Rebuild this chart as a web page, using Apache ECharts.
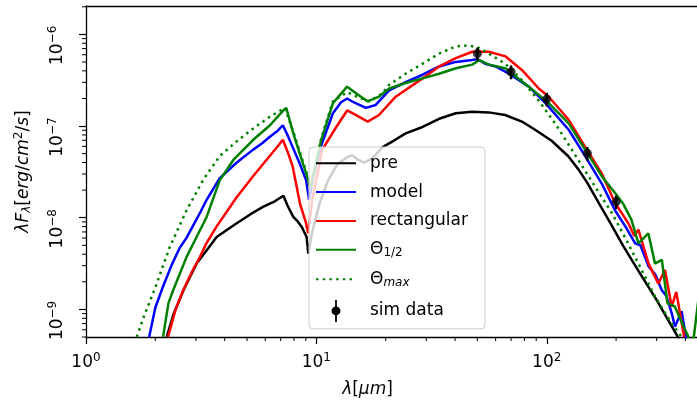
<!DOCTYPE html>
<html><head><meta charset="utf-8">
<script src="https://cdn.jsdelivr.net/npm/echarts@6/dist/echarts.min.js"></script>
<style>html,body{margin:0;padding:0;background:#fff}#c{width:697px;height:400px}</style>
</head><body><div id="c"></div>
<script>
// ---- axis ticks ----
const xTickValues = [1, 10, 100];
const yTickValues = [1e-9, 1e-8, 1e-7, 1e-6];
const xMin = 1, xMax = 458;
const yMin = 5.0e-10, yMax = 2.04e-6;

// ---- series: pre ----
const preLam = [2.24, 2.4, 2.65, 3.02, 3.4, 3.69, 4.1, 4.51, 5.2, 5.89, 6.6, 7.19, 7.5, 7.94, 8.3, 8.64, 9.07, 9.22, 9.6, 10.3, 11.2, 12.3, 13.6, 14.3, 15.2, 16.1, 17.5, 19.4, 22, 24.4, 28.9, 34.1, 40.3, 47.5, 56, 66, 78, 89, 105, 124, 137, 150, 170, 190, 215, 250, 300, 367, 385];
const preF = [5.01e-10, 8.91e-10, 1.62e-9, 3.16e-9, 4.68e-9, 6.17e-9, 7.41e-9, 8.71e-9, 1.10e-8, 1.32e-8, 1.51e-8, 1.74e-8, 1.35e-8, 1.02e-8, 9.12e-9, 7.94e-9, 6.17e-9, 4.07e-9, 7.08e-9, 1.41e-8, 2.51e-8, 3.80e-8, 4.57e-8, 4.79e-8, 4.27e-8, 3.98e-8, 4.47e-8, 5.89e-8, 7.08e-8, 8.32e-8, 9.77e-8, 1.20e-7, 1.38e-7, 1.43e-7, 1.41e-7, 1.32e-7, 1.12e-7, 9.12e-8, 6.92e-8, 4.68e-8, 3.39e-8, 2.40e-8, 1.38e-8, 8.51e-9, 4.90e-9, 2.63e-9, 1.26e-9, 5.25e-10, 4.17e-10];

// ---- series: model ----
const modelLam = [1.88, 2.0, 2.16, 2.35, 2.55, 2.73, 3.12, 3.33, 3.80, 4.5, 5.30, 5.8, 6.26, 6.8, 7.15, 7.5, 7.89, 8.5, 9.02, 9.3, 9.7, 10.5, 11.8, 12.8, 13.6, 14.5, 16.4, 18.1, 20.7, 24.4, 28.9, 34.1, 40.3, 47.5, 50, 54, 60, 68.5, 83.6, 98.7, 124.5, 147, 173.5, 198, 220, 242, 255, 276.6, 296, 315.8, 330, 348.6, 360, 385, 405];
const modelF = [5.01e-10, 1.05e-9, 1.78e-9, 3.02e-9, 4.68e-9, 6.03e-9, 1.12e-8, 1.55e-8, 2.69e-8, 3.98e-8, 5.50e-8, 6.46e-8, 7.59e-8, 8.91e-8, 1.02e-7, 7.94e-8, 5.89e-8, 3.80e-8, 2.57e-8, 1.58e-8, 2.82e-8, 6.17e-8, 1.38e-7, 1.82e-7, 2.00e-7, 1.82e-7, 1.58e-7, 1.70e-7, 2.45e-7, 3.02e-7, 3.63e-7, 4.47e-7, 5.01e-7, 5.25e-7, 5.37e-7, 4.79e-7, 4.47e-7, 3.72e-7, 2.69e-7, 1.78e-7, 9.12e-8, 4.68e-8, 2.34e-8, 1.20e-8, 7.94e-9, 5.25e-9, 5.01e-9, 2.95e-9, 2.40e-9, 1.62e-9, 1.41e-9, 9.12e-10, 6.46e-10, 9.55e-10, 4.47e-10];

// ---- series: rectangular ----
const rectLam = [2.27, 2.45, 2.64, 2.91, 3.12, 3.33, 3.68, 4.5, 5.30, 6.26, 6.8, 7.15, 7.5, 7.89, 8.5, 9.02, 9.22, 9.6, 10.6, 12.2, 13.6, 14.6, 16.7, 18.7, 22.1, 28.9, 34.1, 40.3, 47.5, 56, 66.3, 78.2, 92.3, 102, 124.5, 147, 173.5, 198, 226, 240, 250, 276.6, 305, 326, 348.6, 365, 395];
const rectF = [5.01e-10, 1.00e-9, 1.62e-9, 2.69e-9, 3.72e-9, 5.25e-9, 7.94e-9, 1.66e-8, 2.82e-8, 4.68e-8, 6.03e-8, 7.08e-8, 5.25e-8, 3.63e-8, 1.41e-8, 8.71e-9, 6.76e-9, 1.58e-8, 5.50e-8, 9.77e-8, 1.48e-7, 1.35e-7, 1.12e-7, 1.32e-7, 2.09e-7, 3.31e-7, 4.47e-7, 5.50e-7, 6.46e-7, 6.46e-7, 5.75e-7, 4.07e-7, 2.57e-7, 2.09e-7, 1.17e-7, 5.89e-8, 3.02e-8, 1.45e-8, 8.71e-9, 6.31e-9, 7.41e-9, 3.16e-9, 1.91e-9, 2.69e-9, 1.07e-9, 1.55e-9, 5.01e-10];

// ---- series: Theta 1/2 ----
const halfLam = [2.16, 2.28, 2.39, 2.73, 3.02, 3.34, 3.81, 4.36, 5.32, 6.29, 7.19, 7.4, 7.94, 8.64, 9.22, 9.4, 10.5, 11.8, 13.6, 15, 16.7, 18.7, 20.7, 24.4, 28.9, 34.1, 40.3, 47.5, 51, 56, 66, 83.6, 102, 124.5, 147, 173.5, 198, 215, 233, 250, 276, 295, 316, 334, 360, 393, 430, 455];
const halfF = [5.01e-10, 1.17e-9, 1.62e-9, 3.72e-9, 6.17e-9, 1.02e-8, 2.57e-8, 4.27e-8, 7.08e-8, 1.02e-7, 1.48e-7, 1.58e-7, 8.32e-8, 4.27e-8, 2.57e-8, 2.09e-8, 7.08e-8, 1.78e-7, 2.69e-7, 2.24e-7, 1.86e-7, 2.09e-7, 2.57e-7, 2.95e-7, 3.31e-7, 3.72e-7, 4.27e-7, 4.68e-7, 5.25e-7, 4.68e-7, 4.27e-7, 2.69e-7, 1.78e-7, 1.07e-7, 5.50e-8, 2.82e-8, 1.86e-8, 1.41e-8, 9.55e-9, 5.25e-9, 6.76e-9, 3.16e-9, 3.47e-9, 1.17e-9, 1.07e-9, 6.46e-10, 4.00e-10, 1.26e-9];

// ---- series: Theta max ----
const maxLam = [1.66, 1.8, 2.0, 2.31, 2.73, 3.22, 3.80, 4.49, 5.30, 6.26, 7.0, 7.3, 7.94, 8.64, 9.22, 9.5, 10.5, 11.8, 13.6, 15, 17, 19.4, 20.7, 24.4, 28.9, 34.1, 40.3, 45.9, 51, 56, 66, 78, 92, 108.7, 128.7, 152, 192, 218, 250, 295, 348, 385, 400];
const maxF = [5.01e-10, 8.91e-10, 1.74e-9, 4.79e-9, 1.20e-8, 2.57e-8, 4.68e-8, 6.76e-8, 9.33e-8, 1.26e-7, 1.48e-7, 1.58e-7, 8.71e-8, 4.47e-8, 2.69e-8, 2.24e-8, 7.41e-8, 1.86e-7, 2.34e-7, 2.09e-7, 1.86e-7, 2.29e-7, 2.82e-7, 3.72e-7, 4.79e-7, 6.17e-7, 7.41e-7, 7.59e-7, 7.08e-7, 6.17e-7, 4.79e-7, 3.16e-7, 1.91e-7, 1.07e-7, 5.50e-8, 2.82e-8, 1.12e-8, 6.17e-9, 3.16e-9, 1.38e-9, 7.08e-10, 5.01e-10, 4.17e-10];

// ---- sim data points ----
const simLam = [50, 70, 100, 150, 200];
const simF = [6.17e-7, 3.91e-7, 1.97e-7, 5.04e-8, 1.49e-8];
const simErr = [1.0e-7, 0.67e-7, 0.33e-7, 0.86e-8, 0.25e-8];

// minor tick positions (k x 10^n)
function minorTicks(lo, hi) {
  const out = [];
  for (let e = -12; e <= 4; e++) {
    for (let k = 2; k <= 9; k++) {
      const v = k * Math.pow(10, e);
      if (v >= lo && v <= hi) out.push(v);
    }
  }
  return out;
}
const xMinor = minorTicks(xMin, xMax);
const yMinor = minorTicks(yMin, yMax);

const FONT = 'DejaVu Sans';
const zip = (a, b) => a.map((v, i) => [v, b[i]]);
const expOf = v => Math.round(Math.log10(v));
const tickRich = {
  b: { fontFamily: FONT, fontSize: 17, color: '#000' },
  e: { fontFamily: FONT, fontSize: 12, color: '#000', padding: [0, 0, 9, 0] }
};
const nameRich = {
  a: { fontFamily: FONT, fontSize: 17, fontStyle: 'italic', color: '#000' },
  r: { fontFamily: FONT, fontSize: 17, color: '#000' },
  sb: { fontFamily: FONT, fontSize: 12, fontStyle: 'italic', color: '#000', padding: [7, 0, 0, 0] },
  sp: { fontFamily: FONT, fontSize: 12, color: '#000', padding: [0, 0, 9, 0] }
};
const legendRich = {
  t: { fontFamily: FONT, fontSize: 17, color: '#000' },
  s: { fontFamily: FONT, fontSize: 12, color: '#000', padding: [7, 0, 0, 0] },
  si: { fontFamily: FONT, fontSize: 12, fontStyle: 'italic', color: '#000', padding: [7, 0, 0, 0] }
};
const legendLabels = {
  'pre': '{t|pre}', 'model': '{t|model}', 'rectangular': '{t|rectangular}',
  'Θ1/2': '{t|Θ}{s|1/2}', 'Θmax': '{t|Θ}{si|max}', 'sim data': '{t|sim data}'
};

function lineSeries(name, lam, f, color, type) {
  return {
    type: 'line', name: name, data: zip(lam, f), xAxisIndex: 0, yAxisIndex: 0,
    symbol: 'none', showSymbol: false, clip: true, animation: false,
    lineStyle: { color: color, width: 2.5, type: type || 'solid' },
    itemStyle: { color: color }
  };
}
function tickSeries(vals, isX) {
  return {
    type: 'custom', name: isX ? '_xminor' : '_yminor', silent: true, clip: false,
    xAxisIndex: 0, yAxisIndex: 0, animation: false, z: 1,
    data: vals.map(v => isX ? [v, yMin] : [xMin, v]),
    renderItem: (p, api) => {
      const c = api.coord([api.value(0), api.value(1)]);
      return isX
        ? { type: 'line', shape: { x1: c[0], y1: c[1], x2: c[0], y2: c[1] + 4 }, style: { stroke: '#000', lineWidth: 1 } }
        : { type: 'line', shape: { x1: c[0], y1: c[1], x2: c[0] - 4, y2: c[1] }, style: { stroke: '#000', lineWidth: 1 } };
    }
  };
}

const chart = echarts.init(document.getElementById('c'), null, { renderer: 'canvas' });
chart.setOption({
  animation: false,
  backgroundColor: '#fff',
  grid: { left: 86, top: 6, width: 613, bottom: 63, containLabel: false, outerBoundsMode: 'none' },
  xAxis: [
    {
      type: 'log', logBase: 10, min: xMin, max: xMax, position: 'bottom',
      axisLine: { show: true, lineStyle: { color: '#000', width: 1.3 } },
      axisTick: { show: true, customValues: xTickValues, length: 7, lineStyle: { color: '#000', width: 1.2 } },
      axisLabel: {
        customValues: xTickValues, margin: 15,
        formatter: v => '{b|10}{e|' + expOf(v) + '}', rich: tickRich
      },
      splitLine: { show: false },
      name: '{a|λ}{r|[}{a|μm}{r|]}', nameLocation: 'middle', nameGap: 44,
      nameTextStyle: { rich: nameRich, padding: [0, 50, 0, 0] }
    },
    {
      type: 'log', logBase: 10, min: xMin, max: xMax, position: 'top',
      axisLine: { show: true, lineStyle: { color: '#000', width: 1.3 } },
      axisTick: { show: false }, axisLabel: { show: false }, splitLine: { show: false }
    }
  ],
  yAxis: [
    {
      type: 'log', logBase: 10, min: yMin, max: yMax, position: 'left',
      axisLine: { show: true, lineStyle: { color: '#000', width: 1.3 } },
      axisTick: { show: true, customValues: yTickValues, length: 7, lineStyle: { color: '#000', width: 1.2 } },
      axisLabel: {
        customValues: yTickValues, rotate: 90, margin: 18, padding: [0, 22, 0, 0],
        formatter: v => '{b|10}{e|−' + Math.abs(expOf(v)) + '}', rich: tickRich
      },
      splitLine: { show: false },
      name: '{a|λF}{sb|λ}{r|[}{a|erg}{r|/}{a|cm}{sp|2}{r|/}{a|s}{r|]}',
      nameLocation: 'middle', nameGap: 52, nameRotate: 90,
      nameTextStyle: { rich: nameRich }
    }
  ],
  legend: {
    orient: 'vertical', left: 309, top: 147, padding: [7.5, 17, 7, 6],
    itemWidth: 40, itemHeight: 22, itemGap: 11.2,
    itemStyle: { opacity: 0 },
    backgroundColor: 'rgba(255,255,255,0.8)', borderColor: '#cccccc', borderWidth: 1, borderRadius: 4,
    textStyle: { fontFamily: FONT, fontSize: 17, color: '#000', padding: [0, 0, 0, 9], rich: legendRich },
    formatter: name => legendLabels[name],
    data: ['pre', 'model', 'rectangular', 'Θ1/2', 'Θmax',
      { name: 'sim data', icon: 'path://M3.6,0 L5.4,0 L5.4,22 L3.6,22 Z M0,11 A4.5,4.5 0 1 1 9,11 A4.5,4.5 0 1 1 0,11 Z', itemStyle: { color: '#000', opacity: 1 } }],
    z: 10
  },
  series: [
    tickSeries(xMinor, true),
    tickSeries(yMinor, false),
    lineSeries('pre', preLam, preF, '#000000'),
    lineSeries('model', modelLam, modelF, '#0000ff'),
    lineSeries('rectangular', rectLam, rectF, '#ff0000'),
    lineSeries('Θ1/2', halfLam, halfF, '#008000'),
    lineSeries('Θmax', maxLam, maxF, '#008000', [2.5, 4.2]),
    {
      type: 'custom', name: 'sim data', xAxisIndex: 0, yAxisIndex: 0,
      data: simLam.map((l, i) => [l, simF[i], simErr[i]]),
      encode: { x: 0, y: 1 },
      renderItem: (params, api) => {
        const x = api.value(0), y = api.value(1), e = api.value(2);
        const p1 = api.coord([x, y - e]), p2 = api.coord([x, y + e]);
        return { type: 'line', shape: { x1: p1[0], y1: p1[1], x2: p2[0], y2: p2[1] },
          style: { stroke: '#000', lineWidth: 2.5 } };
      },
      itemStyle: { color: '#000' }, animation: false, z: 5
    },
    {
      type: 'scatter', name: 'sim data', data: zip(simLam, simF), xAxisIndex: 0, yAxisIndex: 0,
      symbol: 'circle', symbolSize: 9, itemStyle: { color: '#000' }, animation: false, z: 6
    }
  ]
});
</script>
</body></html>
